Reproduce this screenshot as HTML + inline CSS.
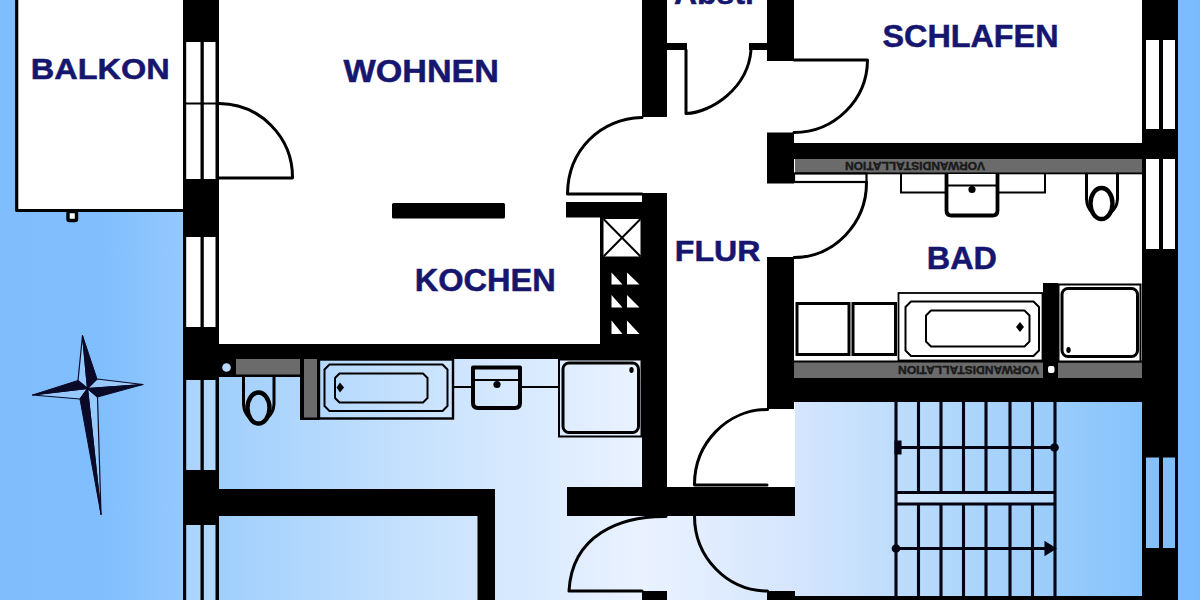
<!DOCTYPE html>
<html lang="de">
<head>
<meta charset="utf-8">
<title>Grundriss</title>
<style>
html,body{margin:0;padding:0;background:#fff;}
body{width:1200px;height:600px;overflow:hidden;}
svg{display:block;}
.lbl{font-family:"Liberation Sans",Arial,sans-serif;font-weight:bold;font-size:31px;fill:#16166f;stroke:#16166f;stroke-width:0.5;}
.vw{font-family:"Liberation Sans",Arial,sans-serif;font-weight:bold;font-size:11px;fill:#1a1a1a;stroke:#1a1a1a;stroke-width:0.4;}
.k{fill:#000;}
.w{fill:#fff;}
.ln{fill:none;stroke:#000;stroke-width:3;stroke-linecap:round;stroke-linejoin:round;}
.ln2{fill:none;stroke:#000;stroke-width:2;}
.ln3{fill:none;stroke:#000;stroke-width:3.2;stroke-linejoin:round;}
.g{fill:#6b6b6b;}
</style>
</head>
<body>
<svg width="1200" height="600" viewBox="0 0 1200 600">
<defs>
<linearGradient id="bg" x1="0" y1="0" x2="1" y2="0">
<stop offset="0.0000" stop-color="#7fbdfd"/>
<stop offset="0.0833" stop-color="#80befd"/>
<stop offset="0.1500" stop-color="#93c8fd"/>
<stop offset="0.1833" stop-color="#a0cffc"/>
<stop offset="0.2500" stop-color="#b0d7fd"/>
<stop offset="0.3600" stop-color="#cae3fd"/>
<stop offset="0.5333" stop-color="#eaf2ff"/>
<stop offset="0.6667" stop-color="#d5e5fd"/>
<stop offset="0.7417" stop-color="#bfddfb"/>
<stop offset="0.8833" stop-color="#98ccfb"/>
<stop offset="0.9500" stop-color="#87c3fc"/>
<stop offset="1.0000" stop-color="#79bafc"/>
</linearGradient>
</defs>
<rect id="sky" x="0" y="0" width="1200" height="600" fill="url(#bg)"/>

<!-- ROOM FILLS -->
<g id="rooms">
<rect class="w" x="17" y="0" width="168" height="210"/>
<rect class="w" x="185" y="0" width="458" height="346"/>
<rect class="w" x="640" y="0" width="503" height="380"/>
<rect class="w" x="660" y="370" width="135" height="118"/>
</g>

<!-- WALLS -->
<g id="walls" class="k">
<!-- left outer wall -->
<rect x="183" y="0" width="36" height="42"/>
<rect x="183" y="179" width="36" height="58"/>
<rect x="183" y="327" width="36" height="53"/>
<rect x="183" y="470" width="36" height="55"/>
<!-- horizontal wall Wohnen / lower bath -->
<rect x="217" y="344" width="427" height="15"/>
<!-- lower-left wall -->
<rect x="217" y="489" width="278" height="27"/>
<rect x="477.500" y="514" width="17.500" height="86"/>
<!-- Wohnen / Abstell wall -->
<rect x="642" y="0" width="25" height="117"/>
<rect x="666" y="43" width="21" height="7"/>
<rect x="749" y="43" width="19" height="7"/>
<rect x="767" y="0" width="27" height="61"/>
<!-- kitchen -->
<rect x="566" y="202" width="78" height="15.500"/>
<rect x="642" y="193" width="25" height="296"/>
<rect x="600" y="217" width="43" height="129"/>
<!-- Bad walls -->
<rect x="767" y="132.500" width="27" height="51"/>
<rect x="792" y="143" width="352" height="16"/>
<rect x="767" y="257" width="27" height="152"/>
<rect x="767" y="377.500" width="377" height="24.500"/>
<rect x="1043" y="283" width="15" height="96"/>
<!-- right outer wall -->
<rect x="1142" y="0" width="36" height="40"/>
<rect x="1142" y="129" width="36" height="30"/>
<rect x="1142" y="249" width="36" height="208.500"/>
<rect x="1142" y="548" width="36" height="52"/>
<!-- lower horizontal wall -->
<rect x="567" y="487" width="228" height="29"/>
<!-- bottom blocks -->
<rect x="642" y="591" width="25" height="9"/>
<rect x="767" y="591" width="28" height="9"/>
<rect x="793" y="596" width="351" height="4"/>
</g>

<!-- GRAY Vorwand bars -->
<g id="vorwand">
<rect class="g" x="795" y="159" width="347" height="14"/>
<rect class="k" x="795" y="172.500" width="347" height="1.800"/>
<rect class="g" x="794" y="362" width="249" height="16"/>
<rect class="g" x="1058" y="362" width="84" height="16"/>
<rect class="k" x="794" y="360.500" width="348" height="2"/>
<rect class="w" x="1048" y="366" width="6.500" height="7" rx="2"/>
<text class="vw" transform="translate(985 162) rotate(180)" textLength="140" lengthAdjust="spacingAndGlyphs">VORWANDISTALLATION</text>
<text class="vw" transform="translate(1039 366) rotate(180)" textLength="141" lengthAdjust="spacingAndGlyphs">VORWANDISTALLATION</text>
<!-- lower-left bath -->
<rect class="k" x="219" y="358" width="17.500" height="19"/>
<circle cx="226.500" cy="367.500" r="4.300" fill="#b9d8fc"/>
<rect class="g" x="236" y="359" width="64" height="16"/>
<rect class="k" x="236" y="374.500" width="66" height="2.500"/>
<rect class="k" x="300" y="359" width="19.500" height="61"/>
<rect class="g" x="304" y="359" width="13" height="58.500"/>
</g>

<!-- WINDOWS -->
<g id="windows">
<!-- left wall windows -->
<g class="k">
<rect x="183" y="42" width="3.200" height="137"/>
<rect x="200.500" y="42" width="3.300" height="137"/>
<rect x="215.500" y="42" width="3.500" height="137"/>
<rect x="183" y="102.500" width="36" height="2"/>
<rect x="183" y="237" width="3.200" height="90"/>
<rect x="200.500" y="237" width="3.300" height="90"/>
<rect x="215.500" y="237" width="3.500" height="90"/>
</g>
<rect x="186" y="380" width="30" height="90" fill="#fff" fill-opacity="0.2"/>
<rect x="186" y="525" width="30" height="75" fill="#fff" fill-opacity="0.2"/>
<g class="k">
<rect x="183" y="380" width="3.200" height="90"/>
<rect x="200.500" y="380" width="3.300" height="90"/>
<rect x="215.500" y="380" width="3.500" height="90"/>
<rect x="183" y="525" width="3.200" height="75"/>
<rect x="200.500" y="525" width="3.300" height="75"/>
<rect x="215.500" y="525" width="3.500" height="75"/>
</g>
<!-- right wall windows -->
<rect class="w" x="1142" y="40" width="36" height="89"/>
<rect class="w" x="1142" y="159" width="36" height="90"/>
<g class="k">
<rect x="1142" y="40" width="4" height="89"/>
<rect x="1159" y="40" width="4" height="89"/>
<rect x="1175" y="40" width="3" height="89"/>
<rect x="1142" y="159" width="4" height="90"/>
<rect x="1159" y="159" width="4" height="90"/>
<rect x="1175" y="159" width="3" height="90"/>
<rect x="1142" y="457" width="4" height="91"/>
<rect x="1159" y="457" width="4" height="91"/>
<rect x="1175" y="457" width="3" height="91"/>
</g>
</g>

<!-- BALCONY outline -->
<g id="balkon">
<path class="ln3" d="M16.700 0 V210.500 H183" stroke-width="3"/>
<rect x="68" y="211.500" width="8.500" height="9" rx="1.500" fill="#fff" stroke="#000" stroke-width="3.400"/>
</g>

<!-- DOORS -->
<g id="doors">
<!-- balcony door -->
<path class="ln" d="M219 103.500 A74 74 0 0 1 292.500 178 H219"/>
<!-- Wohnen door -->
<path class="ln" d="M642 117.500 C600 119 568 150 567.500 194 H642"/>
<rect class="w" x="568.500" y="196" width="73" height="5.500"/>
<!-- Abstell door -->
<path class="ln" d="M686 50 V113.500 C712 112.500 748 88 751 50"/>
<!-- Schlafen door -->
<path class="ln" d="M794 60 H867.500 A73.500 73 0 0 1 794 132.500"/>
<!-- Bad door -->
<rect x="794" y="173.500" width="72.500" height="8.500" fill="#fff" stroke="#000" stroke-width="2.200"/>
<path class="ln" d="M866.500 182 A73 75 0 0 1 794 257.500"/>
<!-- entrance door -->
<path class="ln" d="M767.500 409.500 A73 75 0 0 0 694.500 485 H767"/>
<!-- lower doors -->
<path class="ln" d="M666 516.500 C620 516 572 535 569 591 H642"/>
<path class="ln" d="M694.500 516 A73 75 0 0 0 767.500 591"/>
</g>

<!-- KITCHEN fixtures -->
<g id="kitchen">
<rect class="k" x="392" y="203" width="113" height="15.500" rx="1.500"/>
<rect x="603.500" y="219" width="37" height="37.500" fill="#fff"/>
<path class="ln2" d="M603.500 219 L640.500 256.500 M640.500 219 L603.500 256.500" stroke-width="3"/>
<g class="w">
<path d="M611.500 272.500 V284.500 H622.500 Z"/>
<path d="M627 272.500 V284.500 H639.500 Z"/>
<path d="M611.500 295 V307.500 H622.500 Z"/>
<path d="M627 295 V307.500 H639.500 Z"/>
<path d="M611.500 320.500 V334 H622.500 Z"/>
<path d="M627 320.500 V334 H639.500 Z"/>
</g>
</g>

<!-- BAD fixtures -->
<g id="bad">
<!-- counter + sink -->
<path class="ln2" d="M901 174 V192.500 H1045 V174" stroke-width="2.800"/>
<path d="M946.500 174 V210.500 Q946.500 215.500 951.500 215.500 H992.500 Q997.500 215.500 997.500 210.500 V174" fill="#fff" stroke="#000" stroke-width="3.800"/>
<path class="ln2" d="M946.500 185.500 H997.500" stroke-width="3"/>
<circle cx="972" cy="189.500" r="3.600"/>
<!-- toilet -->
<path class="ln" d="M1086.500 174 V199 Q1087 208 1092 212 M1117.500 174 V199 Q1117 208 1111 212" stroke-width="3.400"/>
<ellipse cx="1101.500" cy="203.500" rx="11" ry="15.500" fill="#fff" stroke="#000" stroke-width="4.400"/>
<!-- washer / dryer -->
<rect x="797" y="303.500" width="52" height="51" fill="#fff" stroke="#000" stroke-width="3"/>
<rect x="853" y="303.500" width="42.500" height="51" fill="#fff" stroke="#000" stroke-width="3"/>
<!-- bathtub -->
<rect x="898.500" y="293" width="144" height="67.500" fill="#fff" stroke="#000" stroke-width="1.800"/>
<path class="ln2" d="M911 301.500 H1033.500 L1039 307 V350.500 L1033.500 356 H911 L905.500 350.500 V307 Z" stroke-width="2.800" stroke-linejoin="round"/>
<path class="ln2" d="M931 310.500 H1024.500 L1029.500 315.500 V341.500 L1024.500 346.500 H931 L926 341.500 V315.500 Z" stroke-width="2.800" stroke-linejoin="round"/>
<path class="k" d="M1020 322 L1024 327 L1020 332 L1016 327 Z"/>
<!-- shower -->
<rect x="1058.500" y="284.500" width="82" height="77" fill="#fff" stroke="#000" stroke-width="2"/>
<rect x="1062" y="288.500" width="75.500" height="68" rx="6" fill="#fff" stroke="#000" stroke-width="3"/>
<ellipse cx="1068.500" cy="350" rx="2.200" ry="3"/>
</g>

<!-- LOWER BATH fixtures -->
<g id="bath2">
<path class="ln" d="M243.500 377 V404 Q244 413 249 417 M274 377 V404 Q273.500 413 268 417" stroke-width="3.400"/>
<ellipse cx="258.500" cy="408" rx="11" ry="15.500" fill="none" stroke="#000" stroke-width="4.400"/>
<rect x="319" y="359.500" width="134" height="59" fill="none" stroke="#000" stroke-width="2.400"/>
<path class="ln2" d="M329.500 364.500 H442.500 L447.500 369.500 V406 L442.500 411 H329.500 L324.500 406 V369.500 Z" stroke-width="2.800" stroke-linejoin="round"/>
<path class="ln2" d="M339.500 373.500 H423 L427.500 378 V398 L423 402.500 H339.500 L335 398 V378 Z" stroke-width="2.800" stroke-linejoin="round"/>
<path class="k" d="M340 382.500 L344 387.500 L340 392.500 L336.500 387.500 Z"/>
<path class="ln2" d="M453 387 H471 M522 387 H559" stroke-width="2.800"/>
<path d="M473 367.500 H520 V403 Q520 408 515 408 H478 Q473 408 473 403 Z" fill="none" stroke="#000" stroke-width="4" stroke-linejoin="round"/>
<path class="ln2" d="M473 380 H520" stroke-width="3"/>
<circle cx="497" cy="384.500" r="3.600"/>
<rect x="559" y="359.500" width="82.500" height="77" fill="none" stroke="#000" stroke-width="2"/>
<rect x="563" y="363" width="75.500" height="69.500" rx="6" fill="none" stroke="#000" stroke-width="3"/>
<ellipse cx="631.500" cy="370" rx="2.200" ry="3"/>
</g>

<!-- STAIRS -->
<g id="stairs" stroke="#030312" stroke-width="3.100" fill="none">
<rect x="896" y="492.500" width="159" height="11.500" fill="#fff" fill-opacity="0.3" stroke="none"/>
<path d="M896 402 V600 M918.500 402 V492 M941 402 V492 M963.500 402 V492 M986 402 V492 M1010 402 V492 M1032.500 402 V492 M1055 402 V600"/>
<path d="M918.500 504 V597 M941 504 V597 M963.500 504 V597 M986 504 V597 M1010 504 V597 M1032.500 504 V597"/>
<path d="M896 447.500 H1055 M896 492.500 H1055 M896 504 H1055 M896 548.500 H1055"/>
<path d="M896 442 h4 v11 h-4 Z" fill="#05051c"/>
<circle cx="1054.500" cy="447.500" r="2.800" fill="#05051c"/>
<circle cx="896" cy="548.500" r="2.800" fill="#05051c"/>
<path d="M1046 543.500 L1054 548.500 L1046 553.500 Z" fill="#05051c"/>
</g>

<!-- COMPASS -->
<g id="compass">
<path d="M82.500 335.500 L78 380.500 L87.500 388.500 Z M143 384.500 L97 379 L87.500 388.500 Z M101 514.500 L97.500 397 L87.500 388.500 Z M32.500 395 L80 399 L87.500 388.500 Z" fill="#fff" fill-opacity="0.18" stroke="#0a0a28" stroke-width="1.200" stroke-linejoin="round"/>
<path d="M82.500 335.500 L97 379 L87.500 388.500 Z M143 384.500 L97.500 397 L87.500 388.500 Z M101 514.500 L80 399 L87.500 388.500 Z M32.500 395 L78 380.500 L87.500 388.500 Z" fill="#0a0a28" stroke="#0a0a28" stroke-width="1" stroke-linejoin="round"/>
</g>

<!-- LABELS -->
<g id="labels" class="lbl">
<text x="30.800" y="78.800" style="font-size:29px" textLength="139" lengthAdjust="spacingAndGlyphs">BALKON</text>
<text x="343.500" y="82" textLength="155.500" lengthAdjust="spacingAndGlyphs">WOHNEN</text>
<text x="882.500" y="47.200" textLength="176" lengthAdjust="spacingAndGlyphs">SCHLAFEN</text>
<text x="414.700" y="290.500" style="font-size:31px" textLength="141.200" lengthAdjust="spacingAndGlyphs">KOCHEN</text>
<text x="674.800" y="261" style="font-size:30px" textLength="85.500" lengthAdjust="spacingAndGlyphs">FLUR</text>
<text x="926.800" y="269" style="font-size:31px" textLength="70.200" lengthAdjust="spacingAndGlyphs">BAD</text>
<text x="674" y="3.500" textLength="83.500" lengthAdjust="spacingAndGlyphs">Abstr</text>
</g>
</svg>
</body>
</html>
